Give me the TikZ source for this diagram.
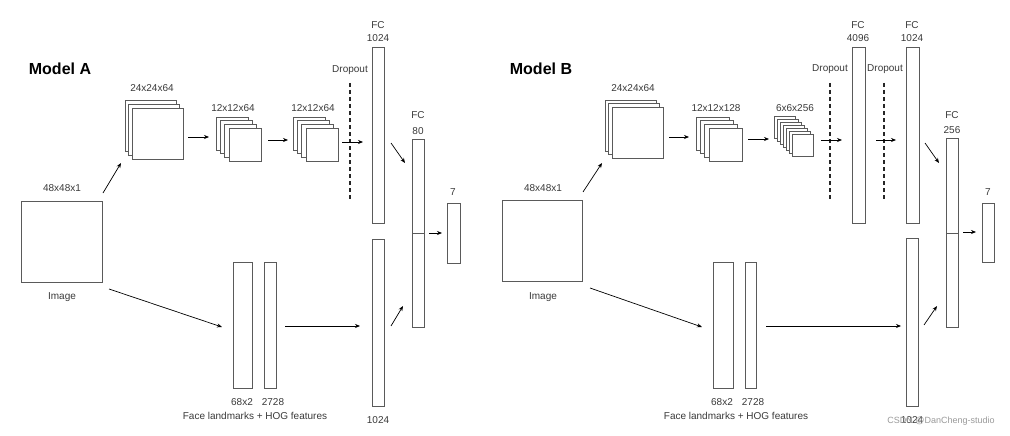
\documentclass[tikz,border=0pt]{standalone}
\usepackage{fontspec}
\setmainfont{Liberation Sans}
\usetikzlibrary{arrows.meta}
\definecolor{linec}{HTML}{5A5A5A}
\definecolor{txtc}{HTML}{3A3A3A}
\definecolor{wmc}{HTML}{9A9A9A}
\begin{document}
\begin{tikzpicture}[x=1pt,y=-1pt,
 box/.style={draw=linec, line width=0.8pt, fill=white, inner sep=0pt, outer sep=0pt, anchor=north west},
 lbl/.style={text=txtc, font=\fontsize{10}{12}\selectfont, inner sep=0pt},
 ttl/.style={text=black, font=\fontsize{16}{19}\selectfont\bfseries, inner sep=0pt},
 wm/.style={text=wmc, font=\fontsize{9}{11}\selectfont, inner sep=0pt},
 arr/.style={draw=black, line width=0.7pt, -{Stealth[length=5pt,width=4pt]}},
 drop/.style={draw=black!85, line width=1.3pt, dash pattern=on 4pt off 3pt},
 divl/.style={draw=linec, line width=0.8pt},
]
\useasboundingbox[fill=white] (0,0) rectangle (1010,436);

% ================= Model A =================
\node[ttl] (titleA) at (60,69) {Model A};

\node[box, minimum width=81pt, minimum height=81pt] (imgA) at (21,201) {};
\node[lbl] (imgAtop) at (62,188) {48x48x1};
\node[lbl] (imgAlbl) at (62,297) {Image};

\foreach \i in {0,1,2}
  \node[box, minimum width=51pt, minimum height=51pt] (sA1-\i) at ({125+3.5*\i},{100+4*\i}) {};
\node[lbl] (sA1lbl) at (152,88) {24x24x64};

\foreach \i in {0,1,2,3}
  \node[box, minimum width=32pt, minimum height=33pt] (sA2-\i) at ({216+4.3*\i},{117+3.7*\i}) {};
\node[lbl] (sA2lbl) at (233,108) {12x12x64};

\foreach \i in {0,1,2,3}
  \node[box, minimum width=32pt, minimum height=33pt] (sA3-\i) at ({293+4.3*\i},{117+3.7*\i}) {};
\node[lbl] (sA3lbl) at (313,108) {12x12x64};

\coordinate (dA-top) at (350,83);
\coordinate (dA-bot) at (350,200);
\draw[drop] (dA-top) -- (dA-bot);
\node[lbl] (dAlbl) at (350,70) {Dropout};

\node[box, minimum width=12pt, minimum height=176pt] (fcA1) at (372,47) {};
\node[lbl] (fcA1a) at (378,25) {FC};
\node[lbl] (fcA1b) at (378,38) {1024};

\node[box, minimum width=12pt, minimum height=167pt] (fcA2) at (372,239) {};
\node[lbl] (fcA2lbl) at (378,420) {1024};

\node[box, minimum width=12pt, minimum height=188pt] (fcA3) at (412,139) {};
\coordinate (fcA3d) at (412,233);
\draw[divl] (fcA3.west |- fcA3d) -- (fcA3.east |- fcA3d);
\node[lbl] (fcA3a) at (418,115) {FC};
\node[lbl] (fcA3b) at (418,131) {80};

\node[box, minimum width=13pt, minimum height=60pt] (outA) at (447,203) {};
\node[lbl] (outAlbl) at (453,192) {7};

\node[box, minimum width=19pt, minimum height=126pt] (lmA) at (233,262) {};
\node[box, minimum width=12pt, minimum height=126pt] (hogA) at (264,262) {};
\node[lbl] (lmAlbl) at (242,402) {68x2};
\node[lbl] (hogAlbl) at (273,402) {2728};
\node[lbl] (featA) at (255,416) {Face landmarks + HOG features};

% arrows A
\coordinate (a1s) at (103,193); \coordinate (a1e) at (121,163);
\coordinate (a2s) at (188,137); \coordinate (a2e) at (209,137);
\coordinate (a3s) at (268,140); \coordinate (a3e) at (288,140);
\coordinate (a4s) at (342,142); \coordinate (a4e) at (363,142);
\coordinate (a5s) at (391,143); \coordinate (a5e) at (405,163);
\coordinate (a6s) at (391,326); \coordinate (a6e) at (403,306);
\coordinate (a7s) at (429,233); \coordinate (a7e) at (442,233);
\coordinate (a8s) at (109,289); \coordinate (a8e) at (222,327);
\coordinate (a9s) at (285,326); \coordinate (a9e) at (360,326);
\foreach \k in {1,...,9} \draw[arr] (a\k s) -- (a\k e);

% ================= Model B =================
\node[ttl] (titleB) at (541,69) {Model B};

\node[box, minimum width=80pt, minimum height=81pt] (imgB) at (502,200) {};
\node[lbl] (imgBtop) at (543,188) {48x48x1};
\node[lbl] (imgBlbl) at (543,297) {Image};

\foreach \i in {0,1,2}
  \node[box, minimum width=51pt, minimum height=51pt] (sB1-\i) at ({605+3.5*\i},{100+3.5*\i}) {};
\node[lbl] (sB1lbl) at (633,88) {24x24x64};

\foreach \i in {0,1,2,3}
  \node[box, minimum width=33pt, minimum height=33pt] (sB2-\i) at ({696+4.3*\i},{117+3.7*\i}) {};
\node[lbl] (sB2lbl) at (716,108) {12x12x128};

\foreach \i in {0,...,6}
  \node[box, minimum width=21pt, minimum height=22pt] (sB3-\i) at ({774+3*\i},{116+3*\i}) {};
\node[lbl] (sB3lbl) at (795,108) {6x6x256};

\coordinate (dB1-top) at (830,83);
\coordinate (dB1-bot) at (830,200);
\draw[drop] (dB1-top) -- (dB1-bot);
\node[lbl] (dB1lbl) at (830,69) {Dropout};

\node[box, minimum width=13pt, minimum height=176pt] (fcB1) at (852,47) {};
\node[lbl] (fcB1a) at (858,25) {FC};
\node[lbl] (fcB1b) at (858,38) {4096};

\coordinate (dB2-top) at (884,83);
\coordinate (dB2-bot) at (884,200);
\draw[drop] (dB2-top) -- (dB2-bot);
\node[lbl] (dB2lbl) at (885,69) {Dropout};

\node[box, minimum width=13pt, minimum height=176pt] (fcB2) at (906,47) {};
\node[lbl] (fcB2a) at (912,25) {FC};
\node[lbl] (fcB2b) at (912,38) {1024};

\node[box, minimum width=12pt, minimum height=168pt] (fcB4) at (906,238) {};
\node[lbl] (fcB4lbl) at (912,420) {1024};

\node[box, minimum width=12pt, minimum height=189pt] (fcB3) at (946,138) {};
\coordinate (fcB3d) at (946,233);
\draw[divl] (fcB3.west |- fcB3d) -- (fcB3.east |- fcB3d);
\node[lbl] (fcB3a) at (952,115) {FC};
\node[lbl] (fcB3b) at (952,130) {256};

\node[box, minimum width=12pt, minimum height=59pt] (outB) at (982,203) {};
\node[lbl] (outBlbl) at (988,192) {7};

\node[box, minimum width=20pt, minimum height=126pt] (lmB) at (713,262) {};
\node[box, minimum width=11pt, minimum height=126pt] (hogB) at (745,262) {};
\node[lbl] (lmBlbl) at (722,402) {68x2};
\node[lbl] (hogBlbl) at (753,402) {2728};
\node[lbl] (featB) at (736,416) {Face landmarks + HOG features};

% arrows B
\coordinate (b1s) at (583,192); \coordinate (b1e) at (602,163);
\coordinate (b2s) at (669,137); \coordinate (b2e) at (689,137);
\coordinate (b3s) at (748,139); \coordinate (b3e) at (769,139);
\coordinate (b4s) at (821,140); \coordinate (b4e) at (842,140);
\coordinate (b5s) at (876,140); \coordinate (b5e) at (896,140);
\coordinate (b6s) at (925,143); \coordinate (b6e) at (939,163);
\coordinate (b7s) at (924,325); \coordinate (b7e) at (937,306);
\coordinate (b8s) at (963,232); \coordinate (b8e) at (976,232);
\coordinate (b9s) at (590,288); \coordinate (b9e) at (702,327);
\coordinate (b10s) at (766,326); \coordinate (b10e) at (901,326);
\foreach \k in {1,...,10} \draw[arr] (b\k s) -- (b\k e);

\node[wm] (wmark) at (941,421) {CSDN @DanCheng-studio};
\end{tikzpicture}
\end{document}
